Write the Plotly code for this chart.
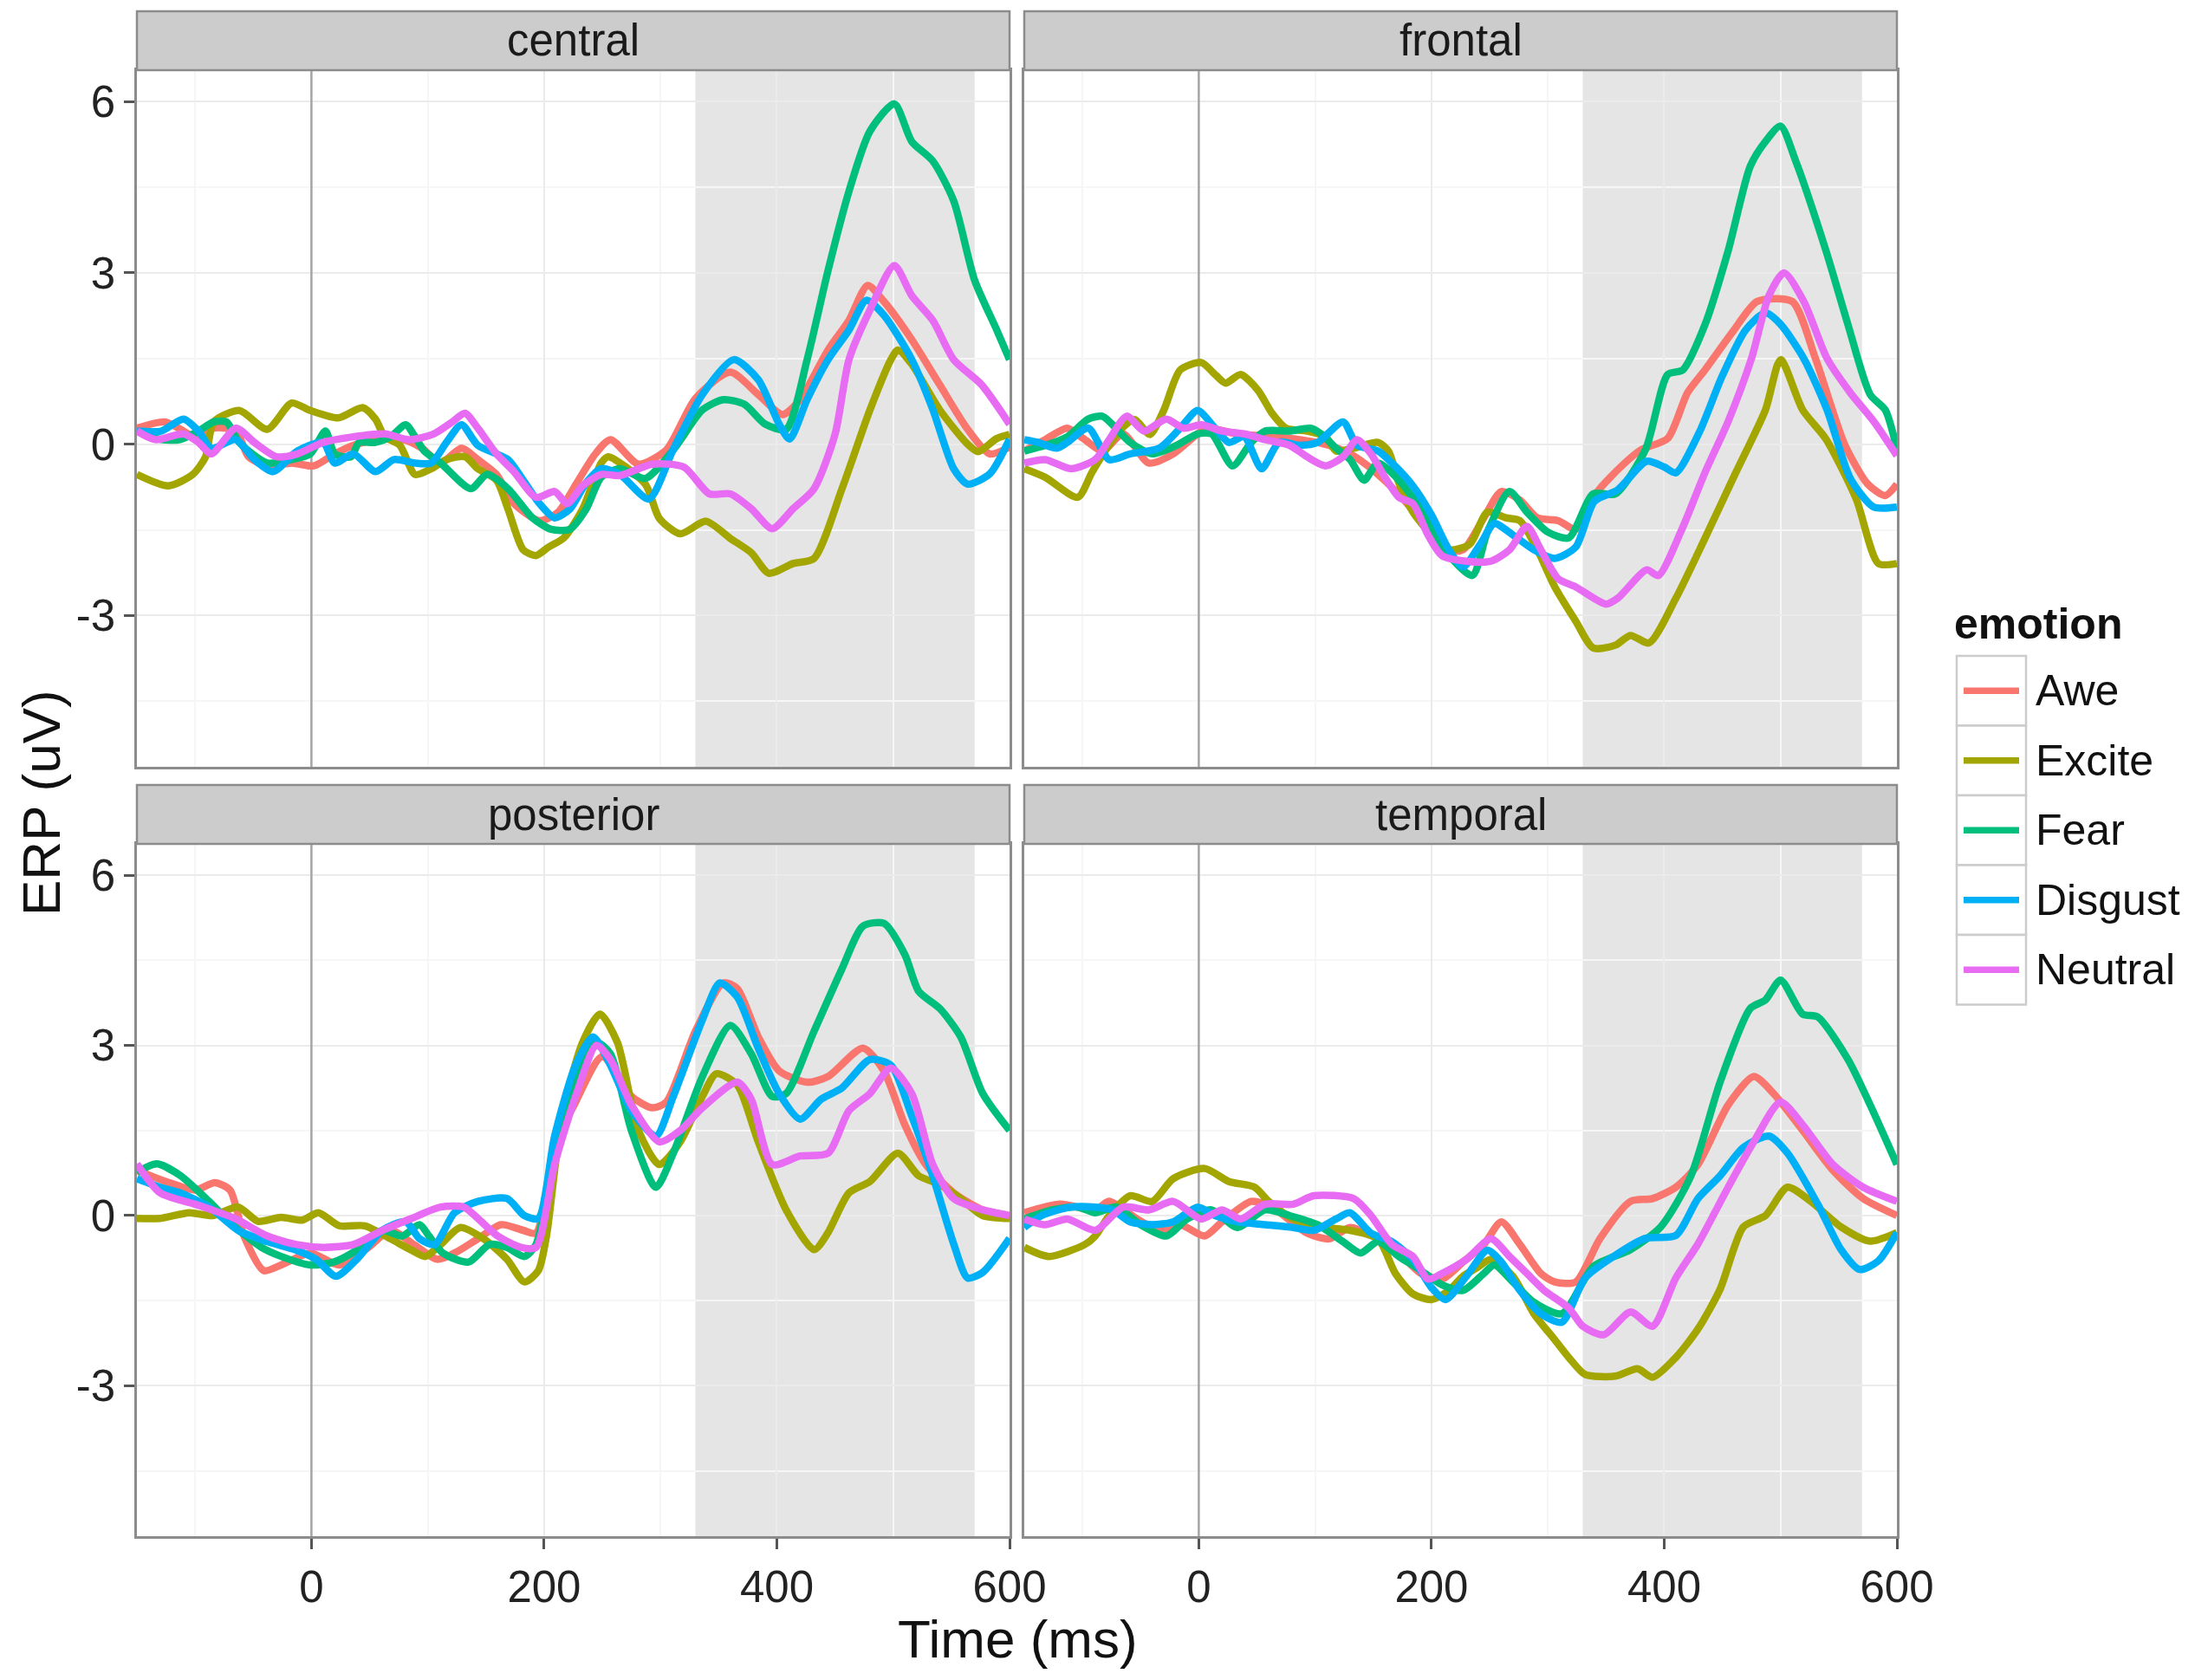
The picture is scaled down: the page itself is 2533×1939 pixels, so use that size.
import plotly.graph_objects as go

# ---- data ----
emotions = ["Awe", "Excite", "Fear", "Disgust", "Neutral"]
colors = ["#F8766D", "#A3A500", "#00BF7D", "#00B0F6", "#E76BF3"]
regions = ["central", "frontal", "posterior", "temporal"]

central = {
    "Awe": ([-150, -126, -110, -97, -84, -65, -54, -38, -17, 2, 20, 36, 57, 79, 95, 111, 129, 143, 159, 174, 196, 212, 228, 244, 257, 281, 305, 330, 360, 384, 405, 420, 444, 462, 478, 492, 516, 540, 564, 583, 600],
            [0.28, 0.39, 0.23, 0.08, 0.28, 0.23, -0.22, -0.38, -0.33, -0.38, -0.17, -0.02, 0.08, 0.08, -0.07, -0.33, -0.07, -0.27, -0.53, -1.04, -1.34, -1.19, -0.68, -0.17, 0.08, -0.35, -0.1, 0.8, 1.26, 0.87, 0.52, 0.78, 1.65, 2.17, 2.78, 2.5, 1.83, 1.04, 0.26, -0.17, -0.05]),
    "Excite": ([-150, -123, -102, -91, -84, -62, -38, -17, -1, 23, 44, 55, 63, 76, 89, 103, 116, 132, 143, 159, 169, 182, 193, 204, 217, 233, 249, 255, 287, 299, 317, 339, 360, 378, 393, 414, 432, 456, 480, 498, 504, 516, 540, 564, 573, 589, 600],
               [-0.53, -0.73, -0.53, -0.22, 0.39, 0.59, 0.26, 0.72, 0.59, 0.46, 0.64, 0.44, 0.13, -0.02, -0.53, -0.43, -0.27, -0.22, -0.43, -0.63, -1.14, -1.85, -1.95, -1.8, -1.64, -1.14, -0.33, -0.22, -0.7, -1.3, -1.57, -1.35, -1.65, -1.9, -2.26, -2.09, -2.0, -0.78, 0.6, 1.48, 1.65, 1.4, 0.6, 0.0, -0.13, 0.1, 0.17]),
    "Fear": ([-150, -129, -113, -97, -84, -73, -62, -38, -17, -1, 12, 20, 34, 41, 55, 68, 81, 89, 97, 111, 137, 151, 169, 190, 206, 222, 236, 249, 265, 287, 311, 336, 354, 372, 390, 408, 426, 444, 462, 480, 501, 516, 534, 552, 570, 589, 600],
             [0.23, 0.08, 0.08, 0.23, 0.39, 0.39, 0.03, -0.33, -0.27, -0.17, 0.23, -0.17, -0.22, 0.03, 0.03, 0.13, 0.34, 0.13, -0.12, -0.33, -0.78, -0.53, -0.78, -1.29, -1.49, -1.49, -1.14, -0.58, -0.43, -0.6, -0.1, 0.6, 0.78, 0.7, 0.35, 0.26, 1.48, 3.04, 4.43, 5.48, 5.96, 5.3, 4.96, 4.26, 2.87, 2.0, 1.48]),
    "Disgust": ([-150, -129, -110, -97, -86, -65, -49, -33, -12, 10, 20, 36, 55, 71, 89, 103, 116, 129, 143, 169, 182, 196, 209, 222, 236, 249, 265, 290, 311, 336, 363, 384, 402, 411, 426, 444, 462, 477, 492, 516, 534, 552, 564, 583, 600],
                [0.23, 0.23, 0.44, 0.23, -0.07, 0.08, -0.27, -0.48, -0.12, 0.03, -0.33, -0.17, -0.48, -0.27, -0.33, -0.33, 0.03, 0.34, -0.02, -0.27, -0.63, -1.04, -1.29, -1.14, -0.68, -0.43, -0.53, -0.96, -0.09, 0.87, 1.48, 1.13, 0.35, 0.09, 0.78, 1.48, 2.0, 2.52, 2.26, 1.48, 0.61, -0.43, -0.7, -0.52, 0.09]),
    "Neutral": ([-150, -134, -110, -97, -86, -65, -49, -30, -12, 10, 36, 63, 84, 105, 121, 132, 143, 159, 174, 193, 209, 220, 233, 249, 265, 293, 320, 342, 360, 378, 396, 414, 432, 450, 462, 480, 501, 516, 534, 552, 576, 600],
                [0.23, 0.08, 0.18, 0.03, -0.17, 0.28, 0.03, -0.22, -0.17, 0.03, 0.13, 0.18, 0.08, 0.18, 0.39, 0.54, 0.28, -0.17, -0.48, -0.93, -0.83, -1.04, -0.73, -0.53, -0.55, -0.35, -0.4, -0.87, -0.87, -1.13, -1.48, -1.13, -0.78, 0.17, 1.48, 2.35, 3.13, 2.6, 2.17, 1.48, 1.04, 0.35]),
}

frontal = {
    "Awe": ([-150, -132, -113, -98, -83, -65, -43, -22, -1, 8, 33, 63, 87, 112, 130, 142, 154, 172, 191, 209, 227, 245, 260, 276, 291, 309, 324, 340, 355, 380, 403, 420, 435, 460, 480, 510, 530, 555, 575, 590, 600],
            [-0.12, 0.08, 0.28, 0.08, -0.12, 0.18, -0.33, -0.17, 0.18, 0.28, 0.18, 0.13, 0.08, -0.02, -0.17, -0.33, -0.53, -0.88, -1.34, -1.85, -1.85, -1.29, -0.83, -0.98, -1.29, -1.34, -1.49, -0.9, -0.55, -0.1, 0.1, 0.9, 1.3, 2.0, 2.5, 2.5, 1.5, 0.0, -0.7, -0.9, -0.7]),
    "Excite": ([-150, -132, -104, -92, -80, -65, -55, -42, -30, -16, 2, 15, 23, 36, 51, 63, 75, 93, 109, 118, 133, 154, 163, 172, 184, 200, 215, 233, 248, 264, 276, 291, 306, 324, 339, 358, 371, 387, 410, 435, 461, 487, 500, 519, 539, 565, 584, 600],
               [-0.43, -0.58, -0.93, -0.5, -0.1, 0.3, 0.43, 0.17, 0.6, 1.3, 1.43, 1.2, 1.07, 1.22, 0.94, 0.54, 0.28, 0.23, 0.13, -0.12, -0.07, 0.03, -0.12, -0.68, -1.19, -1.59, -1.85, -1.75, -1.19, -1.29, -1.34, -1.85, -2.5, -3.1, -3.57, -3.52, -3.35, -3.48, -2.7, -1.65, -0.52, 0.6, 1.48, 0.6, 0.09, -0.96, -2.09, -2.09]),
    "Fear": ([-150, -132, -113, -95, -83, -74, -59, -40, -19, -1, 11, 29, 45, 57, 78, 96, 105, 118, 130, 142, 154, 172, 191, 209, 235, 248, 267, 282, 300, 318, 339, 358, 384, 403, 416, 435, 455, 474, 487, 500, 513, 539, 558, 577, 590, 600],
             [-0.12, -0.02, 0.13, 0.44, 0.49, 0.34, 0.03, -0.17, -0.02, 0.18, 0.18, -0.38, 0.03, 0.23, 0.23, 0.28, 0.18, -0.07, -0.27, -0.63, -0.33, -0.63, -1.14, -1.8, -2.3, -1.54, -0.83, -1.19, -1.54, -1.64, -0.87, -0.87, -0.09, 1.22, 1.3, 2.09, 3.39, 4.87, 5.3, 5.57, 4.96, 3.39, 2.09, 0.87, 0.6, -0.09]),
    "Disgust": ([-150, -138, -122, -113, -95, -77, -59, -34, -16, -1, 14, 26, 39, 54, 69, 87, 102, 124, 136, 154, 166, 184, 200, 215, 227, 242, 254, 270, 288, 306, 324, 340, 360, 385, 400, 410, 430, 450, 470, 487, 500, 520, 540, 560, 580, 600],
                [0.08, 0.03, -0.07, 0.03, 0.28, -0.27, -0.17, -0.07, 0.28, 0.59, 0.28, 0.03, 0.13, -0.43, 0.03, -0.02, 0.03, 0.39, -0.02, -0.12, -0.33, -0.73, -1.24, -1.85, -2.15, -1.75, -1.39, -1.59, -1.85, -2.0, -1.8, -1.0, -0.8, -0.3, -0.4, -0.5, 0.2, 1.2, 2.0, 2.3, 2.1, 1.5, 0.6, -0.6, -1.1, -1.1]),
    "Neutral": ([-150, -132, -110, -89, -77, -62, -47, -28, -13, 2, 20, 39, 57, 78, 93, 109, 124, 136, 148, 160, 172, 184, 197, 209, 230, 251, 267, 282, 294, 309, 324, 350, 360, 385, 395, 415, 435, 455, 475, 490, 503, 520, 540, 560, 580, 600],
                [-0.33, -0.27, -0.43, -0.27, 0.08, 0.49, 0.23, 0.44, 0.28, 0.34, 0.23, 0.18, 0.08, -0.02, -0.22, -0.38, -0.22, 0.08, -0.17, -0.58, -0.93, -1.04, -1.59, -1.95, -2.05, -2.05, -1.85, -1.44, -1.85, -2.36, -2.5, -2.8, -2.7, -2.2, -2.3, -1.5, -0.5, 0.4, 1.5, 2.6, 3.0, 2.5, 1.5, 0.9, 0.4, -0.2]),
}

posterior = {
    "Awe": ([-150, -125, -100, -83, -70, -58, -41, -26, -1, 24, 49, 68, 88, 108, 123, 143, 163, 182, 193, 209, 227, 250, 275, 293, 305, 330, 354, 366, 384, 402, 426, 444, 474, 492, 510, 528, 552, 577, 600],
            [0.8, 0.6, 0.45, 0.58, 0.45, -0.36, -0.97, -0.87, -0.66, -0.87, -0.56, -0.26, -0.51, -0.77, -0.66, -0.41, -0.16, -0.26, -0.31, 1.2, 2.0, 2.8, 2.1, 1.9, 2.0, 3.25, 4.1, 4.0, 3.15, 2.55, 2.35, 2.45, 2.95, 2.55, 1.6, 0.9, 0.4, 0.1, 0.0]),
    "Excite": ([-150, -130, -105, -85, -63, -46, -26, -8, 6, 24, 46, 68, 86, 98, 111, 128, 148, 168, 183, 195, 202, 215, 233, 248, 263, 281, 299, 317, 336, 348, 366, 384, 408, 432, 444, 462, 480, 504, 522, 540, 558, 577, 600],
               [-0.05, -0.05, 0.05, 0.0, 0.15, -0.1, -0.03, -0.08, 0.05, -0.18, -0.18, -0.41, -0.61, -0.72, -0.51, -0.21, -0.41, -0.77, -1.17, -0.97, -0.36, 1.7, 3.05, 3.55, 3.05, 1.5, 0.9, 1.3, 2.1, 2.5, 2.3, 1.3, 0.1, -0.6, -0.3, 0.4, 0.6, 1.1, 0.7, 0.55, 0.3, 0.0, -0.05]),
    "Fear": ([-150, -133, -113, -88, -68, -43, -26, -1, 19, 39, 61, 78, 93, 101, 113, 135, 153, 168, 183, 193, 209, 227, 245, 257, 275, 296, 311, 336, 360, 378, 396, 408, 432, 456, 474, 492, 510, 522, 540, 558, 577, 600],
             [0.76, 0.91, 0.71, 0.25, -0.16, -0.56, -0.72, -0.87, -0.82, -0.61, -0.26, -0.36, -0.16, -0.36, -0.66, -0.82, -0.51, -0.56, -0.72, -0.51, 1.1, 2.35, 3.05, 2.85, 1.5, 0.5, 1.1, 2.45, 3.35, 2.85, 2.1, 2.15, 3.25, 4.35, 5.1, 5.15, 4.6, 3.95, 3.65, 3.15, 2.15, 1.5]),
    "Disgust": ([-150, -130, -113, -88, -63, -38, -13, 4, 21, 39, 61, 81, 93, 106, 123, 143, 168, 183, 195, 209, 227, 242, 257, 275, 296, 311, 336, 351, 366, 384, 402, 420, 438, 456, 480, 498, 516, 534, 552, 564, 577, 600],
                [0.65, 0.5, 0.4, 0.15, -0.26, -0.46, -0.61, -0.77, -1.07, -0.77, -0.26, -0.11, -0.41, -0.51, 0.05, 0.25, 0.3, 0.0, -0.05, 1.4, 2.65, 3.15, 2.65, 1.85, 1.4, 2.1, 3.45, 4.1, 3.85, 2.95, 2.15, 1.7, 2.05, 2.25, 2.75, 2.65, 1.75, 0.7, -0.5, -1.1, -1.0, -0.4]),
    "Neutral": ([-150, -130, -100, -66, -38, -13, 11, 36, 61, 86, 111, 131, 143, 160, 180, 193, 209, 227, 245, 257, 275, 299, 317, 336, 366, 378, 396, 420, 444, 462, 480, 498, 516, 534, 552, 577, 600],
                [0.91, 0.4, 0.2, -0.05, -0.36, -0.51, -0.56, -0.51, -0.26, -0.05, 0.15, 0.15, -0.05, -0.36, -0.56, -0.56, 0.9, 2.1, 3.0, 2.75, 1.95, 1.3, 1.5, 1.9, 2.35, 2.05, 0.9, 1.05, 1.1, 1.85, 2.15, 2.6, 2.15, 0.9, 0.3, 0.1, 0.0]),
}

temporal = {
    "Awe": ([-150, -119, -89, -77, -53, -34, -16, 5, 20, 45, 63, 93, 112, 130, 154, 172, 191, 209, 227, 245, 260, 276, 294, 306, 324, 345, 371, 390, 410, 429, 455, 477, 494, 519, 545, 571, 600],
            [0.05, 0.2, 0.1, 0.25, -0.06, -0.26, -0.16, -0.36, -0.11, 0.25, 0.15, -0.31, -0.41, -0.21, -0.41, -0.66, -1.02, -1.12, -0.82, -0.51, -0.11, -0.51, -1.02, -1.17, -1.17, -0.4, 0.25, 0.3, 0.5, 0.9, 1.95, 2.45, 2.15, 1.5, 0.8, 0.3, 0.0]),
    "Excite": ([-150, -129, -98, -89, -77, -59, -40, -22, 5, 26, 48, 60, 81, 109, 130, 154, 169, 184, 200, 215, 227, 239, 251, 270, 288, 306, 320, 332, 358, 377, 390, 410, 429, 448, 468, 487, 506, 526, 552, 577, 600],
               [-0.56, -0.72, -0.51, -0.36, 0.0, 0.35, 0.25, 0.65, 0.83, 0.6, 0.5, 0.25, -0.06, -0.21, -0.26, -0.41, -1.02, -1.38, -1.48, -1.32, -1.07, -0.92, -0.77, -1.07, -1.73, -2.19, -2.55, -2.8, -2.83, -2.7, -2.85, -2.5, -2.0, -1.3, -0.2, 0.0, 0.5, 0.25, -0.2, -0.45, -0.3]),
    "Fear": ([-150, -126, -104, -89, -71, -50, -28, -10, 11, 33, 57, 78, 102, 124, 139, 154, 172, 191, 209, 227, 245, 254, 270, 288, 312, 339, 371, 397, 423, 448, 474, 487, 500, 519, 532, 558, 577, 600],
             [-0.06, 0.1, 0.15, 0.05, 0.15, -0.16, -0.36, -0.06, 0.1, -0.21, 0.1, 0.0, -0.16, -0.46, -0.66, -0.46, -0.72, -0.97, -1.22, -1.32, -1.02, -0.87, -1.17, -1.53, -1.73, -0.9, -0.6, -0.2, 0.7, 2.35, 3.65, 3.8, 4.15, 3.55, 3.5, 2.75, 1.95, 0.9]),
    "Disgust": ([-150, -135, -110, -89, -74, -59, -40, -22, -1, 14, 33, 57, 81, 99, 118, 130, 148, 166, 184, 200, 212, 230, 248, 260, 276, 294, 312, 332, 358, 384, 410, 429, 448, 468, 490, 506, 532, 552, 568, 584, 600],
                [-0.21, 0.0, 0.15, 0.15, 0.1, -0.11, -0.16, -0.11, 0.15, 0.0, -0.11, -0.16, -0.21, -0.26, -0.06, 0.05, -0.31, -0.46, -0.77, -1.27, -1.48, -1.07, -0.61, -0.82, -1.32, -1.73, -1.88, -1.1, -0.7, -0.4, -0.35, 0.3, 0.7, 1.2, 1.4, 1.1, 0.2, -0.6, -0.95, -0.8, -0.3]),
    "Neutral": ([-150, -132, -113, -89, -65, -43, -22, 2, 20, 36, 57, 81, 99, 133, 148, 166, 184, 197, 209, 230, 251, 267, 282, 297, 318, 330, 348, 371, 390, 410, 429, 455, 477, 500, 519, 545, 571, 600],
                [-0.06, -0.16, -0.06, -0.26, 0.15, 0.1, 0.25, -0.06, 0.1, -0.06, 0.2, 0.2, 0.35, 0.3, 0.0, -0.51, -0.72, -1.12, -1.02, -0.77, -0.41, -0.72, -1.02, -1.32, -1.63, -1.95, -2.1, -1.7, -1.95, -1.1, -0.5, 0.5, 1.3, 2.0, 1.6, 0.9, 0.5, 0.25]),
}

panel_data = [central, frontal, posterior, temporal]

x_range = [-150, 600]
y_range = [-5.65, 6.55]
x_ticks = [0, 200, 400, 600]
x_minor = [-100, 100, 300, 500]
y_ticks = [-3, 0, 3, 6]
y_ticktext = ["-3", "0", "3", "6"]
y_minor = [-4.5, -1.5, 1.5, 4.5]
shade = (330, 570)
onset = 0

# ---- layout geometry ----
W, H = 2533, 1939
OFF = 8  # the html page body adds an 8px margin, shift everything back


def px(x):
    return (x - OFF) / W


def py(y):
    return 1 - (y - OFF) / H


col_dom = [[px(158), px(1165)], [px(1182), px(2189)]]
row_dom = [[py(885), py(81)], [py(1773), py(974)]]
strip_h = 68 / H

FONT = "Liberation Sans, Arial, sans-serif"
border = "#8C8C8C"
TICK = 51
TITLE = 62
LEG = 50

fig = go.Figure()

shapes = []
annotations = []
for p, region in enumerate(regions):
    r, c = divmod(p, 2)
    n = p + 1
    xa = "x" if n == 1 else "x%d" % n
    ya = "y" if n == 1 else "y%d" % n

    # stimulus onset line, drawn under the ERP curves
    fig.add_trace(go.Scatter(
        x=[onset, onset], y=y_range, mode="lines", xaxis=xa, yaxis=ya,
        line=dict(color="#A6A6A6", width=2.5), showlegend=False, hoverinfo="skip"))

    for emo, col in zip(emotions, colors):
        t, v = panel_data[p][emo]
        fig.add_trace(go.Scatter(
            x=t, y=v, mode="lines", name=emo, xaxis=xa, yaxis=ya,
            line=dict(color=col, width=8.5, shape="spline", smoothing=0.7),
            showlegend=False, hoverinfo="skip"))

    xkey = "xaxis" if n == 1 else "xaxis%d" % n
    ykey = "yaxis" if n == 1 else "yaxis%d" % n
    bottom = r == 1
    left = c == 0
    fig.layout[xkey] = dict(
        domain=col_dom[c], anchor=ya, range=x_range, tickvals=x_ticks,
        showticklabels=bottom, ticks="outside" if bottom else "", ticklen=12,
        tickwidth=2.5, tickcolor="#555555",
        tickfont=dict(size=TICK, color="#222222", family=FONT),
        showgrid=True, gridcolor="#EBEBEB", gridwidth=2,
        minor=dict(tickvals=x_minor, showgrid=True, gridcolor="#F6F6F6", gridwidth=1.5, ticks=""),
        showline=True, linecolor=border, linewidth=2.5, mirror=True,
        zeroline=False, automargin=False)
    fig.layout[ykey] = dict(
        domain=row_dom[r], anchor=xa, range=y_range, tickvals=y_ticks, ticktext=y_ticktext,
        showticklabels=left, ticks="outside" if left else "", ticklen=12,
        tickwidth=2.5, tickcolor="#555555",
        tickfont=dict(size=TICK, color="#222222", family=FONT),
        showgrid=True, gridcolor="#EBEBEB", gridwidth=2,
        minor=dict(tickvals=y_minor, showgrid=True, gridcolor="#F6F6F6", gridwidth=1.5, ticks=""),
        showline=True, linecolor=border, linewidth=2.5, mirror=True,
        zeroline=False, automargin=False)

    # shaded analysis window
    shapes.append(dict(type="rect", xref=xa, yref="paper", x0=shade[0], x1=shade[1],
                       y0=row_dom[r][0], y1=row_dom[r][1],
                       fillcolor="#E5E5E5", line=dict(width=0), layer="below"))

    # facet strip
    top = row_dom[r][1]
    shapes.append(dict(type="rect", xref="paper", yref="paper",
                       x0=col_dom[c][0], x1=col_dom[c][1], y0=top, y1=top + strip_h,
                       fillcolor="#CCCCCC", line=dict(color=border, width=2.5)))
    annotations.append(dict(text=region, xref="paper", yref="paper",
                            x=(col_dom[c][0] + col_dom[c][1]) / 2, y=top + strip_h / 2,
                            showarrow=False, xanchor="center", yanchor="middle",
                            font=dict(size=TICK, color="#1A1A1A", family=FONT)))

# axis titles
annotations.append(dict(text="Time (ms)", xref="paper", yref="paper", x=px(1174), y=py(1891),
                        showarrow=False, xanchor="center", yanchor="middle",
                        font=dict(size=TITLE, color="#111111", family=FONT)))
annotations.append(dict(text="ERP (uV)", xref="paper", yref="paper", x=px(47), y=py(927),
                        showarrow=False, xanchor="center", yanchor="middle", textangle=-90,
                        font=dict(size=TITLE, color="#111111", family=FONT)))

# legend drawn as ggplot-style key boxes
key_top = 757
key_h = 80.5
annotations.append(dict(text="<b>emotion</b>", xref="paper", yref="paper", x=px(2253), y=py(720),
                        showarrow=False, xanchor="left", yanchor="middle",
                        font=dict(size=LEG, color="#111111", family=FONT)))
for i, (emo, col) in enumerate(zip(emotions, colors)):
    y_top = key_top + i * key_h
    y_mid = y_top + key_h / 2
    shapes.append(dict(type="rect", xref="paper", yref="paper", x0=px(2258), x1=px(2338),
                       y0=py(y_top + key_h), y1=py(y_top),
                       fillcolor="#FFFFFF", line=dict(color="#CCCCCC", width=2.5)))
    shapes.append(dict(type="line", xref="paper", yref="paper", x0=px(2266), x1=px(2330),
                       y0=py(y_mid), y1=py(y_mid), line=dict(color=col, width=7.5)))
    annotations.append(dict(text=emo, xref="paper", yref="paper", x=px(2347), y=py(y_mid),
                            showarrow=False, xanchor="left", yanchor="middle",
                            font=dict(size=LEG, color="#111111", family=FONT)))

fig.update_layout(
    width=W, height=H,
    margin=dict(l=0, r=0, t=0, b=0),
    paper_bgcolor="white", plot_bgcolor="white",
    showlegend=False,
    shapes=shapes, annotations=annotations,
    font=dict(family=FONT),
)

fig.write_html("out.html")
